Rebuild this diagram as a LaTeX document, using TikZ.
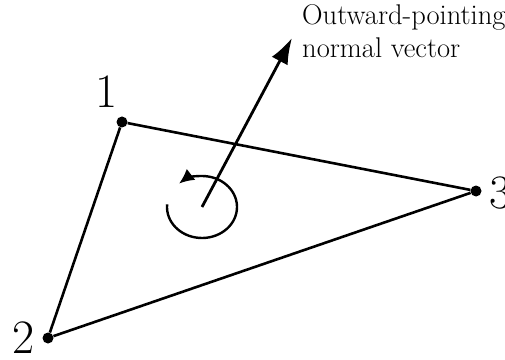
\documentclass[tikz,border=0pt]{standalone}
\usepackage{fontspec}
\usepackage{tikz}
\usetikzlibrary{arrows.meta}

\begin{document}
\begin{tikzpicture}[x=1pt,y=1pt,
  vertex/.style={circle, fill=black, inner sep=0pt, minimum size=11pt},
  edge/.style={line width=2.6pt},
  num/.style={anchor=base, font=\fontsize{48}{48}\selectfont},
  normal/.style={line width=2.8pt, -{Latex[length=26pt,width=18pt]}},
  spin/.style={line width=2.4pt, -{Latex[length=15pt,width=14pt]}}]
  \useasboundingbox (0,0) rectangle (505,359);
  % triangle corners
  \node[vertex] (v1) at (122,237) {};
  \node[vertex] (v2) at (48,21) {};
  \node[vertex] (v3) at (476,168) {};
  \node[num] (l1) at (107,251) {1};
  \node[num] (l2) at (24,6) {2};
  \node[num, anchor=base west] (l3) at (486,151) {3};
  % edges
  \draw[edge] (v1) -- (v2) -- (v3) -- (v1);
  % normal vector
  \coordinate (n0) at (202,152);
  \coordinate (n1) at (292,321);
  \draw[normal] (n0) -- (n1);
  \node[anchor=base west, align=left, inner sep=0pt, font=\fontsize{28.5}{33}\selectfont] (txt) at (302,301)
    {Outward-pointing\\normal vector};
  % orientation arrow
  \draw[spin] ([shift={(175:35pt and 31pt)}]n0) arc[start angle=175, end angle=491, x radius=35pt, y radius=31pt];
\end{tikzpicture}
\end{document}
